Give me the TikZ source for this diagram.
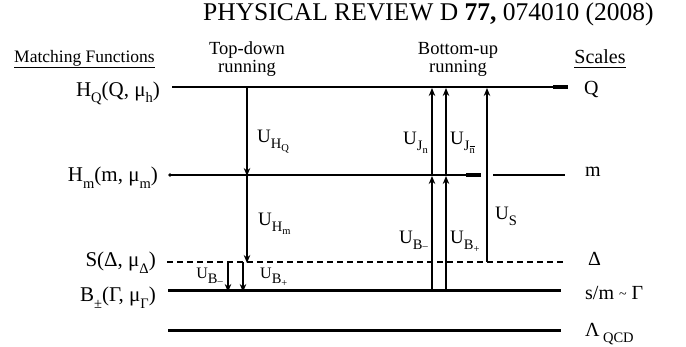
\documentclass[tikz,border=0pt]{standalone}
\usepackage{fontspec}
\setmainfont{Liberation Serif}
\usetikzlibrary{arrows.meta}
\newcommand\lo[1]{\raisebox{-0.3em}{\fontsize{14.5}{14.5}\selectfont #1}}
\newcommand\llo[1]{\raisebox{-0.2em}{\fontsize{10.5}{10.5}\selectfont #1}}
\newcommand\mysubminus{\raisebox{0.25em}{–}}
\begin{document}
\begin{tikzpicture}[x=1pt,y=-1pt,
  lvl/.style={line width=2.6pt},
  endbit/.style={line width=4pt},
  dlvl/.style={line width=1.6pt,dash pattern=on 6pt off 4pt},
  arr/.style={line width=1.6pt,-{Stealth[length=8pt,width=6.5pt]}},
  lab/.style={inner sep=0pt,font=\fontsize{21}{22}\selectfont},
  rlab/.style={inner sep=0pt,font=\fontsize{20}{22}\selectfont},
  ulab/.style={inner sep=0pt,font=\fontsize{19}{20}\selectfont},
  hdr/.style={inner sep=0pt,font=\fontsize{17.5}{20}\selectfont},
  ul/.style={line width=1pt}]
\useasboundingbox (0,0) rectangle (686,347);

% title
\node[inner sep=0pt,anchor=base west,font=\fontsize{25.5}{28}\selectfont] (title) at (203,21) {PHYSICAL REVIEW D \textbf{77,} 074010 (2008)};

% column headers
\node[hdr,anchor=base west] (mf) at (14,63) {Matching Functions};
\draw[ul] (mf.south west |- 0,68) coordinate (mfa) -- (mf.south east |- 0,68) coordinate (mfb);
\node[hdr,anchor=base,font=\fontsize{18.5}{20}\selectfont] (td1) at (247,55) {Top-down};
\node[hdr,anchor=base,font=\fontsize{18.5}{20}\selectfont] (td2) at (247,73) {running};
\node[hdr,anchor=base,font=\fontsize{18.5}{20}\selectfont] (bu1) at (458,55) {Bottom-up};
\node[hdr,anchor=base,font=\fontsize{18.5}{20}\selectfont] (bu2) at (458,73) {running};
\node[hdr,anchor=base,font=\fontsize{20}{22}\selectfont] (sc) at (600,64) {Scales};
\draw[ul] (sc.west |- 0,67.5) coordinate (sca) -- (sc.east |- 0,67.5) coordinate (scb);

% level lines
\coordinate (hqL) at (172,87);  \coordinate (hqR) at (568,87);  \coordinate (hqT) at (553,87);
\coordinate (hmL) at (170,175); \coordinate (hmM) at (481,175); \coordinate (hmT) at (466,175);
\coordinate (hmN) at (493,175); \coordinate (hmR) at (565,175);
\coordinate (sL) at (167,262);  \coordinate (sR) at (563,262);
\coordinate (bL) at (168,291);  \coordinate (bR) at (561,291);
\coordinate (lL) at (168,331);  \coordinate (lR) at (561,331);

\draw[lvl] (hqL) -- (hqR);
\draw[endbit] (hqT) -- (hqR);
\draw[lvl] (hmL) -- (hmM);
\draw[endbit] (hmT) -- (hmM);
\draw[lvl] (hmN) -- (hmR);
\fill (hmL) circle (1.8pt);
\draw[dlvl] (sL) -- (sR);
\draw[lvl,line width=3pt] (bL) -- (bR);
\draw[lvl,line width=3pt] (lL) -- (lR);

% left labels
\node[lab,anchor=base east] (hq) at (160,96.5) {H\lo{Q}(Q, μ\lo{h})};
\node[lab,anchor=base east] (hm) at (158,182) {H\lo{m}(m, μ\lo{m})};
\node[lab,anchor=base east] (sf) at (156,267) {S(Δ, μ\lo{Δ})};
\node[lab,anchor=base east] (bf) at (156,302) {B\lo{±}(Γ, μ\lo{Γ})};

% right labels
\node[rlab,anchor=base west] (q) at (584,95) {Q};
\node[rlab,anchor=base west] (m) at (585,177) {m};
\node[rlab,anchor=base west] (dl) at (588,266) {Δ};
\node[rlab,anchor=base west] (sm) at (585,300) {s/m \raisebox{0.05em}{\fontsize{14}{14}\selectfont\textasciitilde} Γ};
\node[rlab,anchor=base west] (lq) at (585,337) {Λ\,\lo{QCD}};

% top-down running
\coordinate (a1) at (247,87);  \coordinate (a2) at (247,176); \coordinate (a3) at (247,263);
\draw[arr] (a1) -- (a2);
\draw[arr] (247,175) coordinate (a2s) -- (a3);
\node[ulab,anchor=base west] (uhq) at (257,143) {U\lo{H\llo{Q}}};
\node[ulab,anchor=base west] (uhm) at (258,226) {U\lo{H\llo{m}}};

% B arrows (left)
\coordinate (b1s) at (228,262); \coordinate (b1e) at (228,292);
\coordinate (b2s) at (243,262); \coordinate (b2e) at (243,292);
\draw[arr] (b1s) -- (b1e);
\draw[arr] (b2s) -- (b2e);
\node[ulab,anchor=base east,font=\fontsize{16}{16}\selectfont] (ubm1) at (223,279) {U\lo{B\llo{\mysubminus}}};
\node[ulab,anchor=base west,font=\fontsize{16}{16}\selectfont] (ubp1) at (260,279) {U\lo{B\llo{+}}};

% bottom-up running
\coordinate (c1s) at (432,291); \coordinate (c1m) at (432,175); \coordinate (c1e) at (432,87);
\coordinate (c2s) at (446,291); \coordinate (c2m) at (446,175); \coordinate (c2e) at (446,87);
\coordinate (c3s) at (487,262); \coordinate (c3e) at (487,87);
\draw[arr] (c1s) -- ([yshift=-1pt]c1m);
\draw[arr] (c1m) -- ([yshift=-1pt]c1e);
\draw[arr] (c2s) -- ([yshift=-1pt]c2m);
\draw[arr] (c2m) -- ([yshift=-1pt]c2e);
\draw[arr] (c3s) -- ([yshift=-1pt]c3e);
\node[ulab,anchor=base east] (ujn) at (428,145) {U\lo{J\llo{n}}};
\node[ulab,anchor=base west] (ujb) at (450,145) {U\lo{J\llo{\rlap{\rule[0.62em]{0.5em}{0.08em}}n}}};
\node[ulab,anchor=base east] (ubm2) at (428,244) {U\lo{B\llo{\mysubminus}}};
\node[ulab,anchor=base west] (ubp2) at (450,244) {U\lo{B\llo{+}}};
\node[ulab,anchor=base west] (us) at (495,220) {U\lo{S}};
\end{tikzpicture}
\end{document}
